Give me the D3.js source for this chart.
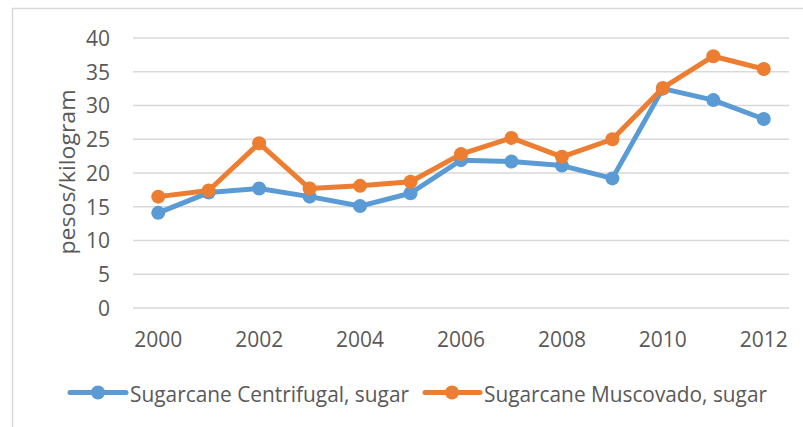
<!DOCTYPE html>
<html>
<head>
<meta charset="utf-8">
<script src="https://cdn.jsdelivr.net/npm/d3@7"></script>
<style>
html,body{margin:0;padding:0;background:#fff;}
svg{display:block;}
text{font-family:"Open Sans","Noto Sans",sans-serif;fill:#595959;}
</style>
</head>
<body>
<svg id="chart" width="803" height="427"></svg>
<script>
const years = [2000,2001,2002,2003,2004,2005,2006,2007,2008,2009,2010,2011,2012];
const centrifugal = [14.1,17.1,17.7,16.5,15.1,17.0,21.9,21.7,21.1,19.2,32.5,30.8,28.0];
const muscovado = [16.5,17.4,24.4,17.7,18.1,18.7,22.8,25.2,22.4,25.0,32.6,37.3,35.4];
const yTicks = [0,5,10,15,20,25,30,35,40];
const xTickLabels = [2000,2002,2004,2006,2008,2010,2012];
const seriesNames = ["Sugarcane Centrifugal, sugar","Sugarcane Muscovado, sugar"];
const colors = ["#5b9bd5","#ed7d31"];

const svg = d3.select("#chart");
// outer border
svg.append("rect").attr("x",12.5).attr("y",8.5).attr("width",820).attr("height",450)
  .attr("fill","none").attr("stroke","#d9d9d9").attr("stroke-width",1.5);

const x = d3.scaleBand().domain(years).range([133,789]);
const y = d3.scaleLinear().domain([0,40]).range([308,38]);

// gridlines
svg.append("g").selectAll("line").data(yTicks).join("line")
  .attr("x1",133).attr("x2",789).attr("y1",d=>y(d)).attr("y2",d=>y(d))
  .attr("stroke","#d9d9d9").attr("stroke-width",1.5);

// y axis labels
const yAxis = d3.axisLeft(y).tickValues(yTicks).tickSize(0).tickPadding(0);
const gy = svg.append("g").attr("transform","translate(110,0)").call(yAxis);
gy.select(".domain").remove();
gy.selectAll("text").attr("font-size",21).attr("fill","#595959").attr("dy","0.35em")
  .style("font-family",'"Open Sans","Noto Sans",sans-serif');

// x axis labels
const xAxis = d3.axisBottom(x).tickValues(xTickLabels).tickSize(0).tickPadding(0);
const gx = svg.append("g").attr("transform","translate(0,308)").call(xAxis);
gx.select(".domain").remove();
gx.selectAll("text").attr("font-size",21).attr("fill","#595959").attr("dy",null).attr("y",39)
  .style("font-family",'"Open Sans","Noto Sans",sans-serif');

// axis title
svg.append("text").attr("transform","translate(75,172) rotate(-90)")
  .attr("text-anchor","middle").attr("font-size",21).attr("textLength",165)
  .attr("lengthAdjust","spacingAndGlyphs").text("pesos/kilogram");

const cx = d => x(d) + x.bandwidth()/2;
const line = d3.line().x((d,i)=>cx(years[i])).y(d=>y(d));
[centrifugal, muscovado].forEach((s,k)=>{
  svg.append("path").datum(s).attr("d",line).attr("fill","none")
    .attr("stroke",colors[k]).attr("stroke-width",5).attr("stroke-linejoin","round").attr("stroke-linecap","round");
  svg.append("g").selectAll("circle").data(s).join("circle")
    .attr("cx",(d,i)=>cx(years[i])).attr("cy",d=>y(d)).attr("r",7).attr("fill",colors[k]);
});

// legend
const legend = [
  {x1:70,x2:126,cx:98,tx:130,tl:279},
  {x1:425,x2:480,cx:452,tx:484,tl:283}
];
legend.forEach((L,k)=>{
  const g = svg.append("g");
  g.append("line").attr("x1",L.x1).attr("x2",L.x2).attr("y1",392.5).attr("y2",392.5)
    .attr("stroke",colors[k]).attr("stroke-width",5).attr("stroke-linecap","round");
  g.append("circle").attr("cx",L.cx).attr("cy",392.5).attr("r",7).attr("fill",colors[k]);
  g.append("text").attr("x",L.tx).attr("y",401.5).attr("font-size",21)
    .attr("textLength",L.tl).attr("lengthAdjust","spacingAndGlyphs").text(seriesNames[k]);
});
</script>
</body>
</html>
